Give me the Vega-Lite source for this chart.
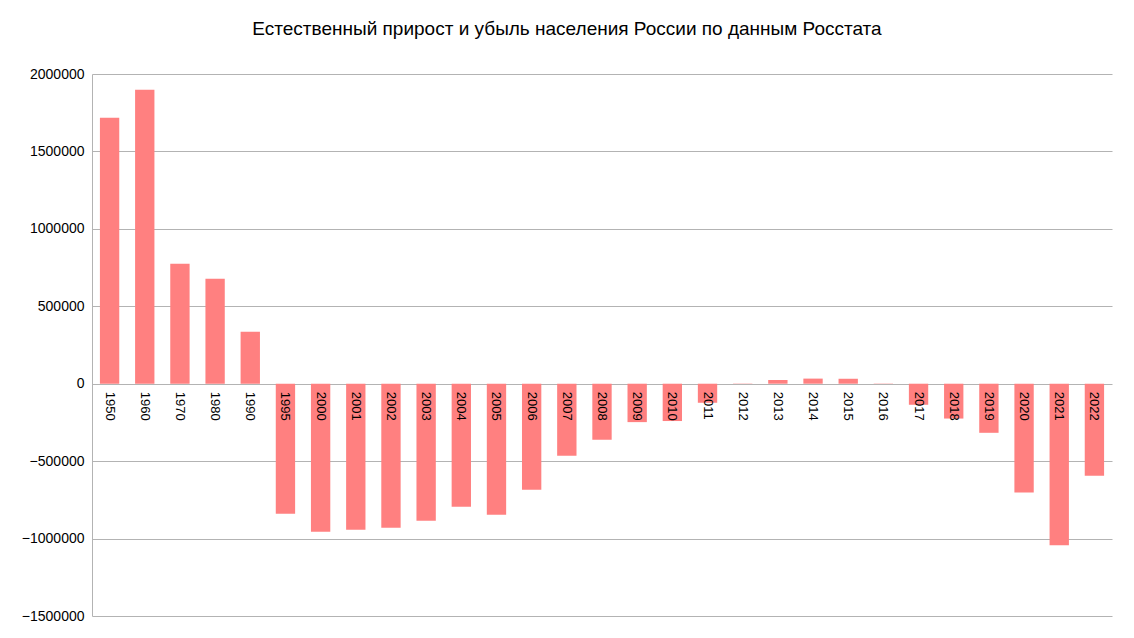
{
  "$schema": "https://vega.github.io/schema/vega-lite/v6.json",
  "autosize": {"type": "none"},
  "padding": {"left": 92, "top": 74, "right": 22, "bottom": 22},
  "width": 1020,
  "height": 542,
  "background": "white",
  "title": {"text": "Естественный прирост и убыль населения России по данным Росстата", "font": "Liberation Sans", "fontSize": 19, "fontWeight": "normal", "color": "#000", "offset": 28, "dx": -35},
  "config": {"view": {"stroke": null}, "font": "Liberation Sans"},
  "data": {"values": [
    {"year": "1950", "v": 1718000}, {"year": "1960", "v": 1899000}, {"year": "1970", "v": 775000},
    {"year": "1980", "v": 678000}, {"year": "1990", "v": 336000}, {"year": "1995", "v": -840000},
    {"year": "2000", "v": -956000}, {"year": "2001", "v": -943000}, {"year": "2002", "v": -930000},
    {"year": "2003", "v": -885000}, {"year": "2004", "v": -795000}, {"year": "2005", "v": -846000},
    {"year": "2006", "v": -685000}, {"year": "2007", "v": -465000}, {"year": "2008", "v": -362000},
    {"year": "2009", "v": -248000}, {"year": "2010", "v": -241000}, {"year": "2011", "v": -123000},
    {"year": "2012", "v": -2000}, {"year": "2013", "v": 24000}, {"year": "2014", "v": 33000},
    {"year": "2015", "v": 32000}, {"year": "2016", "v": -2000}, {"year": "2017", "v": -136000},
    {"year": "2018", "v": -225000}, {"year": "2019", "v": -317000}, {"year": "2020", "v": -702000},
    {"year": "2021", "v": -1043000}, {"year": "2022", "v": -595000}
  ]},
  "encoding": {
    "x": {"field": "year", "type": "ordinal", "scale": {"paddingInner": 0.45, "paddingOuter": 0.225},
      "axis": null}
  },
  "layer": [
    {
      "mark": {"type": "bar", "color": "#ff8080"},
      "encoding": {
        "y": {"field": "v", "type": "quantitative", "scale": {"domain": [-1500000, 2000000], "nice": false},
          "axis": {"values": [-1500000, -1000000, -500000, 0, 500000, 1000000, 1500000, 2000000], "format": "d", "title": null,
            "labelFontSize": 14, "labelColor": "#000", "labelPadding": 8, "ticks": false, "domainColor": "#b3b3b3",
            "gridColor": "#b3b3b3", "labelFont": "Liberation Sans"}}
      }
    },
    {
      "mark": {"type": "rule", "color": "#b3b3b3"},
      "encoding": {"y": {"datum": 0}}
    },
    {
      "mark": {"type": "text", "angle": 90, "align": "left", "baseline": "middle", "dx": 8, "fontSize": 13, "color": "#000"},
      "encoding": {"y": {"datum": 0}, "text": {"field": "year"}}
    }
  ]
}
